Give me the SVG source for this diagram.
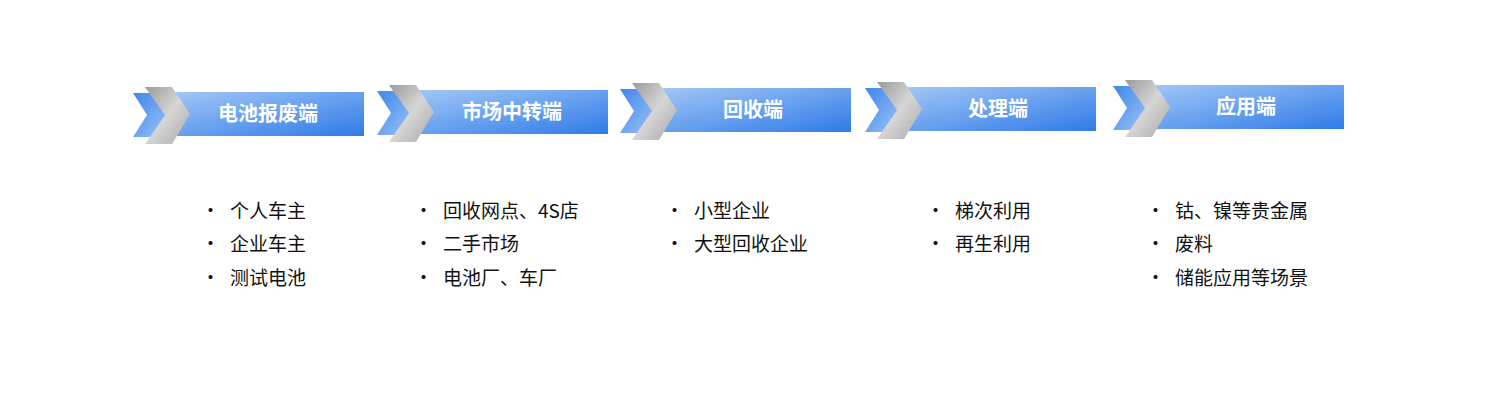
<svg xmlns="http://www.w3.org/2000/svg" width="1486" height="420" viewBox="0 0 1486 420">
<defs>
<linearGradient id="bar" x1="0" y1="0" x2="1" y2="1"><stop offset="0" stop-color="#a3c8f6"/><stop offset="1" stop-color="#2f7be8"/></linearGradient>
<linearGradient id="blu" x1="0" y1="0" x2="1" y2="1"><stop offset="0" stop-color="#3f86ec"/><stop offset="1" stop-color="#9cc3f5"/></linearGradient>
<linearGradient id="gry" x1="0" y1="0" x2="1" y2="1"><stop offset="0" stop-color="#9a9a9a"/><stop offset="0.5" stop-color="#d6d6d6"/><stop offset="1" stop-color="#a8a8a8"/></linearGradient>
<g id="hdr">
<rect x="34" y="5" width="196" height="44" fill="url(#bar)"/>
<polygon points="-1,6 23,6 33,28 23,50 -1,50 13,28" fill="url(#blu)"/>
<polygon points="11,0 38,0 56,27 38,57 11,57 31,28" fill="url(#gry)"/>
</g>
</defs>
<style>
.t{font-family:"Noto Sans CJK SC","Liberation Sans",sans-serif;font-size:20px;font-weight:bold;fill:#fff;text-anchor:middle}
.l{font-family:"Noto Sans CJK SC","Liberation Sans",sans-serif;font-size:19px;fill:#111}
</style>
<rect width="1486" height="420" fill="#fff"/>
<g id="n1"><use href="#hdr" x="134" y="87"/><text class="t" x="268" y="121">电池报废端</text></g>
<g id="n2"><use href="#hdr" x="378" y="85"/><text class="t" x="512" y="119">市场中转端</text></g>
<g id="n3"><use href="#hdr" x="621" y="83"/><text class="t" x="753" y="117">回收端</text></g>
<g id="n4"><use href="#hdr" x="866" y="82"/><text class="t" x="998" y="116">处理端</text></g>
<g id="n5"><use href="#hdr" x="1114" y="80"/><text class="t" x="1246" y="114">应用端</text></g>
<g id="lists" class="l">
<text x="201" y="218">•<tspan x="230">个人车主</tspan></text>
<text x="201" y="251">•<tspan x="230">企业车主</tspan></text>
<text x="201" y="285">•<tspan x="230">测试电池</tspan></text>
<text x="414" y="218">•<tspan x="443">回收网点、4S店</tspan></text>
<text x="414" y="251">•<tspan x="443">二手市场</tspan></text>
<text x="414" y="285">•<tspan x="443">电池厂、车厂</tspan></text>
<text x="665" y="218">•<tspan x="694">小型企业</tspan></text>
<text x="665" y="251">•<tspan x="694">大型回收企业</tspan></text>
<text x="926" y="218">•<tspan x="955">梯次利用</tspan></text>
<text x="926" y="251">•<tspan x="955">再生利用</tspan></text>
<text x="1146" y="218">•<tspan x="1175">钴、镍等贵金属</tspan></text>
<text x="1146" y="251">•<tspan x="1175">废料</tspan></text>
<text x="1146" y="285">•<tspan x="1175">储能应用等场景</tspan></text>
</g>
</svg>
